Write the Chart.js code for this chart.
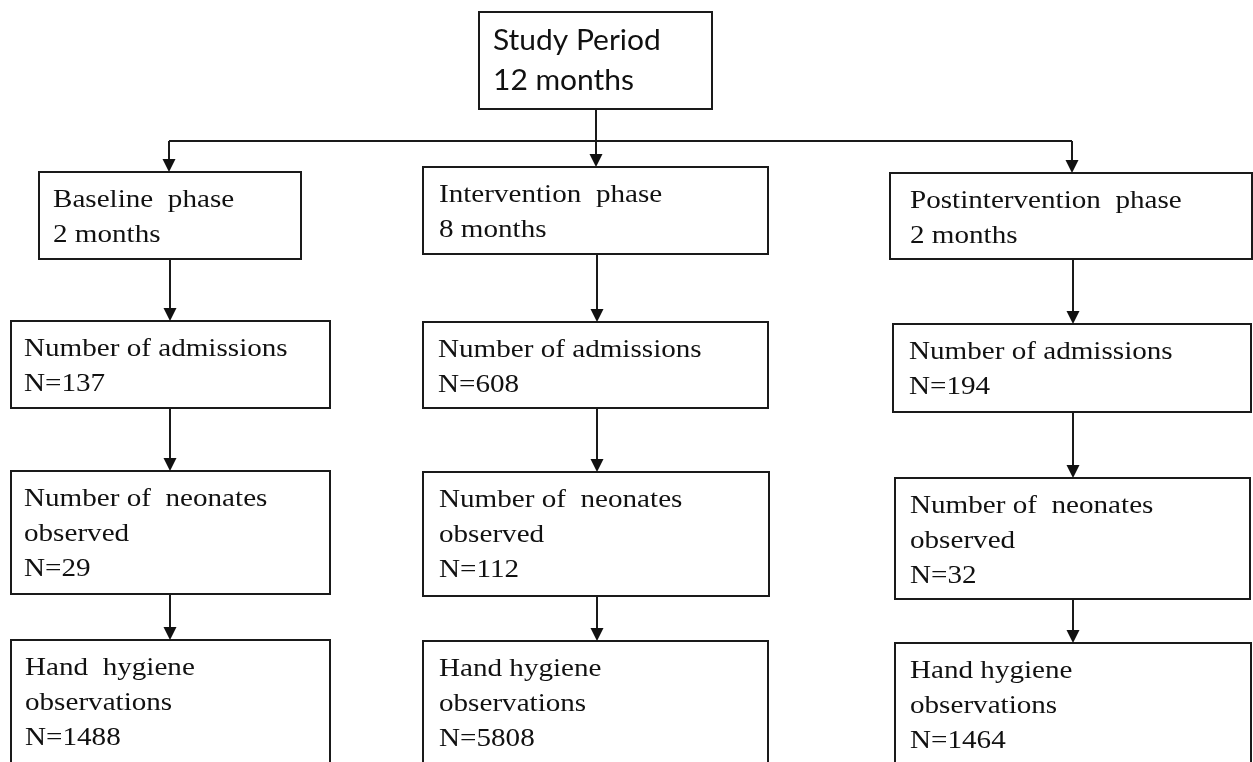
<!DOCTYPE html>
<html>
<head>
<meta charset="utf-8">
<title>Study flow</title>
<script src="https://cdn.jsdelivr.net/npm/chart.js@4"></script>
<style>
    html, body { margin: 0; padding: 0; background: #ffffff; }
    #wrap { width: 1253px; height: 762px; }
</style>
</head>
<body>
<div id="wrap"><canvas id="flowChart" width="1253" height="762"></canvas></div>
<script>
/* ── Flow data ── */
const studyTitle     = 'Study Period';
const studyMonths    = 12;
const phaseNames     = ['Baseline  phase', 'Intervention  phase', 'Postintervention  phase'];
const phaseMonths    = [2, 8, 2];
const admissions     = [137, 608, 194];
const neonates       = [29, 112, 32];
const hhLabels       = ['Hand  hygiene', 'Hand hygiene', 'Hand hygiene'];
const hhObservations = [1488, 5808, 1464];

/* ── Layout (chart units = pixels of the 1253x762 frame) ── */
const topBox = { x0: 479, y0: 12, x1: 712, y1: 109, tx: 493 };
const splitY = 141;
const colX   = [170, 597, 1073];
const boxes  = [
    [ { x0: 39,  y0: 172, x1: 301,  y1: 259, tx: 53 },
      { x0: 11,  y0: 321, x1: 330,  y1: 408, tx: 24 },
      { x0: 11,  y0: 471, x1: 330,  y1: 594, tx: 24 },
      { x0: 11,  y0: 640, x1: 330,  y1: 790, tx: 25 } ],
    [ { x0: 423, y0: 167, x1: 768,  y1: 254, tx: 439 },
      { x0: 423, y0: 322, x1: 768,  y1: 408, tx: 438 },
      { x0: 423, y0: 472, x1: 769,  y1: 596, tx: 439 },
      { x0: 423, y0: 641, x1: 768,  y1: 790, tx: 439 } ],
    [ { x0: 890, y0: 173, x1: 1252, y1: 259, tx: 910 },
      { x0: 893, y0: 324, x1: 1251, y1: 412, tx: 909 },
      { x0: 895, y0: 478, x1: 1250, y1: 599, tx: 910 },
      { x0: 895, y0: 643, x1: 1251, y1: 790, tx: 910 } ]
];

function boxLines(c, row) {
    if (row === 0) return [phaseNames[c], phaseMonths[c] + ' months'];
    if (row === 1) return ['Number of admissions', 'N=' + admissions[c]];
    if (row === 2) return ['Number of  neonates', 'observed', 'N=' + neonates[c]];
    return [hhLabels[c], 'observations', 'N=' + hhObservations[c]];
}

/* ── Plugin: draws boxes, connectors and text through the scales ── */
const flowPlugin = {
    id: 'flow',
    afterDraw(chart) {
        const ctx = chart.ctx;
        const sx = v => chart.scales.x.getPixelForValue(v);
        const sy = v => chart.scales.y.getPixelForValue(v);

        ctx.save();
        ctx.strokeStyle = '#1a1a1a';
        ctx.fillStyle = '#111111';
        ctx.lineWidth = 2;

        const rect = b => {
            ctx.strokeRect(sx(b.x0), sy(b.y0), sx(b.x1) - sx(b.x0), sy(b.y1) - sy(b.y0));
        };
        const line = (x0, y0, x1, y1) => {
            ctx.beginPath();
            ctx.moveTo(sx(x0), sy(y0));
            ctx.lineTo(sx(x1), sy(y1));
            ctx.stroke();
        };
        const arrow = (x, yFrom, yTo) => {
            line(x, yFrom, x, yTo - 10);
            ctx.beginPath();
            ctx.moveTo(sx(x) - 6.5, sy(yTo) - 13);
            ctx.lineTo(sx(x) + 6.5, sy(yTo) - 13);
            ctx.lineTo(sx(x), sy(yTo));
            ctx.closePath();
            ctx.fill();
        };
        const text = (str, x, y, font, stretch) => {
            ctx.save();
            ctx.font = font;
            ctx.textBaseline = 'alphabetic';
            ctx.translate(sx(x), sy(y));
            ctx.scale(stretch, 1);
            ctx.fillText(str, 0, 0);
            ctx.restore();
        };

        /* top box */
        rect(topBox);
        text(studyTitle, topBox.tx, 50, '28px Lato', 1.07);
        text(studyMonths + ' months', topBox.tx, 90, '28px Lato', 1.07);

        /* splitter */
        const mid = colX[1] - 1;
        line(mid, topBox.y1, mid, splitY);
        line(colX[0] - 1, splitY, colX[2] - 1, splitY);

        boxes.forEach((col, c) => {
            const cx = c === 1 ? mid : colX[c] - 1;
            arrow(cx, c === 1 ? topBox.y1 : splitY, col[0].y0);
            col.forEach((b, r) => {
                rect(b);
                if (r > 0) arrow(colX[c], col[r - 1].y1, b.y0);
                boxLines(c, r).forEach((s, i) => {
                    text(s, b.tx, b.y0 + 35 + i * 35, '26px "Liberation Serif"', 1.12);
                });
            });
        });
        ctx.restore();
    }
};

new Chart(document.getElementById('flowChart'), {
    type: 'scatter',
    data: { datasets: [] },
    options: {
        responsive: false,
        animation: false,
        layout: { padding: 0 },
        plugins: { legend: { display: false }, tooltip: { enabled: false } },
        scales: {
            x: { type: 'linear', min: 0, max: 1253, display: false },
            y: { type: 'linear', min: 0, max: 762, reverse: true, display: false }
        }
    },
    plugins: [flowPlugin]
});
</script>
</body>
</html>
